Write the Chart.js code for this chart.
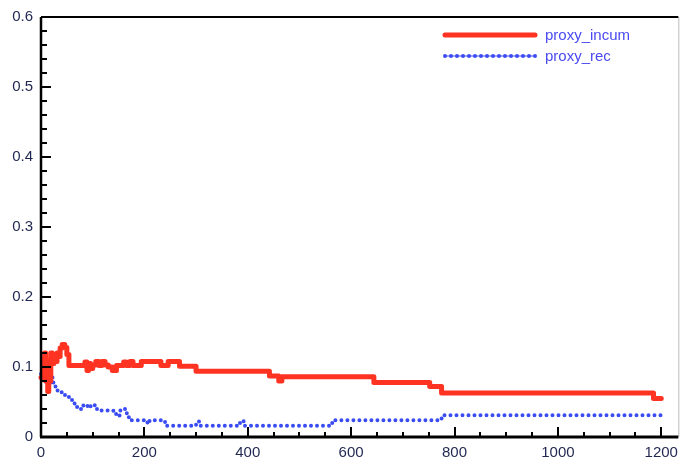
<!DOCTYPE html>
<html>
<head>
<meta charset="utf-8">
<script src="https://cdn.jsdelivr.net/npm/chart.js@4"></script>
<style>
  html, body { margin: 0; padding: 0; background: #fff; }
  #wrap { width: 685px; height: 465px; position: relative; }
</style>
</head>
<body>
<div id="wrap"><canvas id="c" width="685" height="465"></canvas></div>
<script>
// iteration / value pairs (value holds until the next iteration)
const incumIter = [0, 3, 5, 7, 9, 11, 13, 15, 17, 19, 22, 25, 28, 31, 34, 37, 41, 46, 50, 54,
  85, 89, 92, 96, 100, 106, 112, 118, 124, 130, 138, 146, 160, 165, 172, 178, 194, 232, 246, 268,
  300, 442, 460, 466, 644, 752, 775, 1185, 1200];
const incumVal = [0.085, 0.11, 0.09, 0.12, 0.08, 0.10, 0.065, 0.11, 0.08, 0.12, 0.105, 0.115, 0.108, 0.12, 0.115, 0.127, 0.132, 0.128, 0.118, 0.102,
  0.107, 0.095, 0.105, 0.098, 0.103, 0.108, 0.102, 0.108, 0.103, 0.1, 0.095, 0.102, 0.107, 0.102, 0.108, 0.102, 0.108, 0.102, 0.108, 0.101,
  0.094, 0.087, 0.08, 0.086, 0.078, 0.072, 0.063, 0.055, 0.055];

const recIter = [0, 2, 4, 6, 8, 10, 12, 14, 16, 18, 20, 24, 28, 32, 40, 48, 54, 60, 66, 74,
  82, 90, 96, 104, 112, 140, 146, 152, 160, 166, 170, 206, 210, 240, 300, 306, 385, 392, 560, 566,
  775, 1200];
const recVal = [0.09, 0.11, 0.085, 0.12, 0.095, 0.075, 0.105, 0.08, 0.09, 0.075, 0.085, 0.075, 0.068, 0.064, 0.06, 0.057, 0.053, 0.048, 0.043, 0.04,
  0.046, 0.042, 0.046, 0.04, 0.038, 0.033, 0.03, 0.038, 0.04, 0.033, 0.024, 0.019, 0.024, 0.016, 0.022, 0.016, 0.023, 0.016, 0.02, 0.024,
  0.031, 0.031];

const xTicks = [0, 200, 400, 600, 800, 1000, 1200];
const yTicks = [0, 0.1, 0.2, 0.3, 0.4, 0.5, 0.6];
const seriesNames = ['proxy_incum', 'proxy_rec'];

const RED = '#ff3322';
const BLUE = '#3b4cf2';
const INK = '#1f2750';
const FONT = '"Liberation Sans", Arial, sans-serif';

const pts = (xs, ys) => xs.map((x, i) => ({ x, y: ys[i] }));

// frame, inward ticks and legend
const decor = {
  id: 'decor',
  afterDraw(chart) {
    const { ctx, chartArea: a, scales: { x, y } } = chart;
    ctx.save();
    ctx.strokeStyle = '#000';
    ctx.lineCap = 'butt';
    // x ticks every 50, major every 200
    ctx.lineWidth = 2;
    for (let v = 0; v <= 1200; v += 50) {
      const px = Math.round(x.getPixelForValue(v));
      const len = v % 200 === 0 ? 10 : 5;
      ctx.beginPath(); ctx.moveTo(px, a.bottom); ctx.lineTo(px, a.bottom - len); ctx.stroke();
    }
    // y ticks every 0.02, major every 0.1
    for (let i = 0; i <= 30; i++) {
      const py = Math.round(y.getPixelForValue(i * 0.02));
      const len = i % 5 === 0 ? 10 : 6;
      ctx.beginPath(); ctx.moveTo(a.left, py); ctx.lineTo(a.left + len, py); ctx.stroke();
    }
    // frame
    ctx.strokeStyle = '#bbb'; ctx.lineWidth = 1;
    ctx.beginPath(); ctx.moveTo(a.right + 0.5, a.top); ctx.lineTo(a.right + 0.5, a.bottom); ctx.stroke();
    ctx.strokeStyle = '#000'; ctx.lineWidth = 2;
    ctx.beginPath(); ctx.moveTo(a.left, a.top); ctx.lineTo(a.right, a.top); ctx.stroke();
    ctx.lineWidth = 2.5;
    ctx.beginPath(); ctx.moveTo(a.left, a.top); ctx.lineTo(a.left, a.bottom); ctx.stroke();
    ctx.lineWidth = 3;
    ctx.beginPath(); ctx.moveTo(a.left - 1, a.bottom); ctx.lineTo(a.right, a.bottom); ctx.stroke();

    // legend
    ctx.font = '15px ' + FONT;
    ctx.textBaseline = 'middle';
    ctx.textAlign = 'left';
    ctx.strokeStyle = RED; ctx.lineWidth = 5; ctx.lineCap = 'round';
    ctx.beginPath(); ctx.moveTo(445, 35); ctx.lineTo(535, 35); ctx.stroke();
    ctx.strokeStyle = BLUE; ctx.lineWidth = 1;
    ctx.beginPath(); ctx.moveTo(445, 56); ctx.lineTo(535, 56); ctx.stroke();
    ctx.lineWidth = 4; ctx.setLineDash([0, 6]);
    ctx.beginPath(); ctx.moveTo(445, 56); ctx.lineTo(536, 56); ctx.stroke();
    ctx.setLineDash([]);
    ctx.fillStyle = '#4a4af0';
    ctx.fillText(seriesNames[0], 545, 36);
    ctx.fillText(seriesNames[1], 545, 57);
    ctx.restore();
  }
};

new Chart(document.getElementById('c'), {
  type: 'line',
  data: {
    datasets: [
      {
        label: seriesNames[0],
        data: pts(incumIter, incumVal),
        borderColor: RED,
        borderWidth: 5,
        stepped: 'before',
        pointRadius: 0,
        borderCapStyle: 'round',
        borderJoinStyle: 'round',
        fill: false,
        clip: false,
      },
      {
        label: seriesNames[1],
        data: pts(recIter, recVal),
        borderColor: BLUE,
        borderWidth: 4,
        borderDash: [0, 6],
        borderCapStyle: 'round',
        stepped: 'before',
        pointRadius: 0,
        fill: false,
        clip: false,
      }
    ]
  },
  options: {
    responsive: false,
    animation: false,
    layout: { padding: { left: 0, right: 2, top: 15, bottom: 0 } },
    plugins: { legend: { display: false }, tooltip: { enabled: false } },
    scales: {
      x: {
        type: 'linear', min: 0, max: 1233,
        afterBuildTicks: s => { s.ticks = xTicks.map(v => ({ value: v })); },
        afterFit: s => { s.height = 28; },
        grid: { display: false, drawTicks: false },
        border: { display: false },
        ticks: { color: INK, padding: 7, maxRotation: 0, font: { size: 15, family: FONT },
          callback: v => String(v) }
      },
      y: {
        min: 0, max: 0.6,
        afterBuildTicks: s => { s.ticks = yTicks.map(v => ({ value: v })); },
        afterFit: s => { s.width = 41; },
        grid: { display: false, drawTicks: false },
        border: { display: false },
        ticks: { color: INK, padding: 8, font: { size: 15, family: FONT },
          callback: v => String(Math.round(v * 10) / 10) }
      }
    }
  },
  plugins: [decor]
});
</script>
</body>
</html>
